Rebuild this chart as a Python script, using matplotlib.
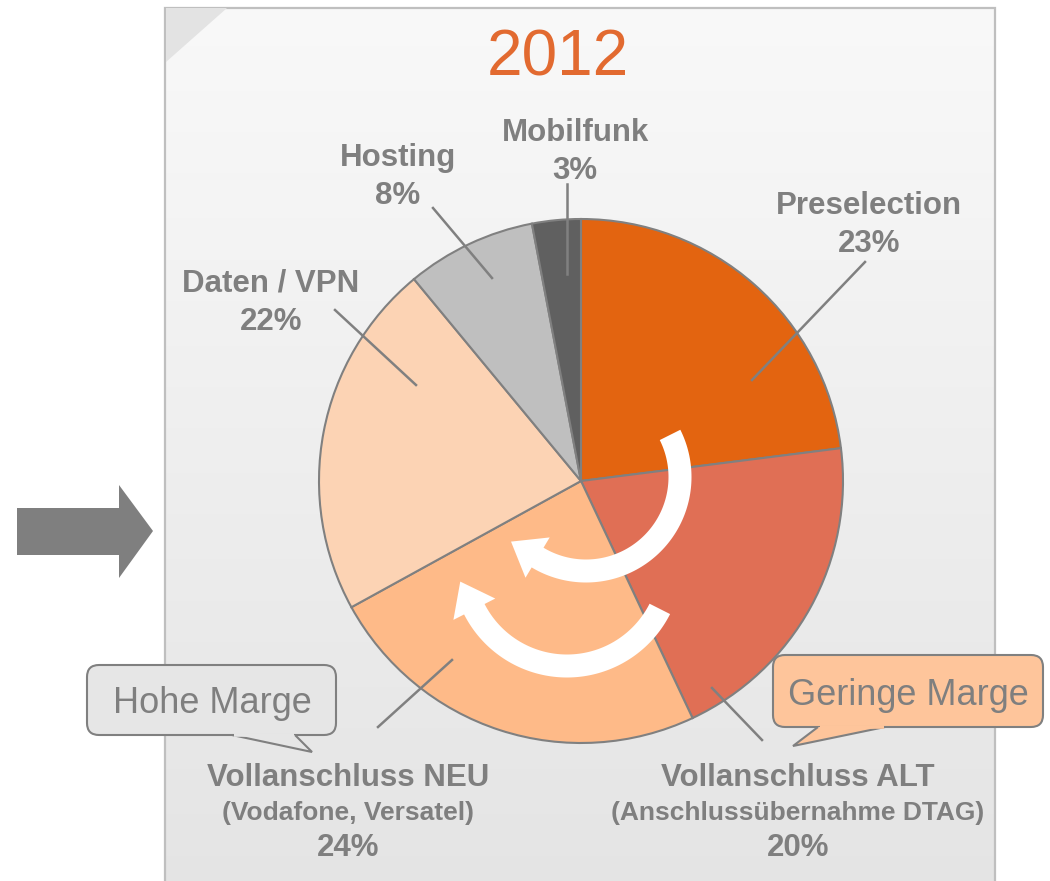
import numpy as np
import matplotlib.pyplot as plt
from matplotlib.patches import FancyBboxPatch, Polygon, Rectangle

plt.rcParams['font.family'] = ['Liberation Sans', 'DejaVu Sans']

# data
year = '2012'
labels = ['Preselection', 'Vollanschluss ALT', 'Vollanschluss NEU', 'Daten / VPN', 'Hosting', 'Mobilfunk']
shares = [23, 20, 24, 22, 8, 3]
subtitles = ['', '(Anschlussübernahme DTAG)', '(Vodafone, Versatel)', '', '', '']
margins = ['Hohe Marge', 'Geringe Marge']

colors = ['#e36410', '#e06f55', '#feba88', '#fcd3b4', '#bfbfbf', '#606060']
grey = '#7f7f7f'

W, H = 1050, 881
def Y(y):  # image row -> axes y
    return H - y

fig = plt.figure(figsize=(10.5, 8.81), dpi=100)
ax = fig.add_axes([0, 0, 1, 1])

# panel with soft gradient
grad = np.linspace(0, 1, 256)[:, None]
top, bot = np.array([0.976, 0.976, 0.976]), np.array([0.895, 0.895, 0.895])
img = top + (bot - top) * grad[..., None]
ax.imshow(img, extent=[165, 995, Y(890), Y(8)], aspect='auto', zorder=0)
ax.add_patch(Rectangle((165, Y(890)), 830, 882, fc='none', ec='#bfbfbf', lw=1.6, zorder=1))
ax.add_patch(Polygon([(166, Y(8)), (227, Y(8)), (166, Y(62))], closed=True,
                     fc='#e3e3e3', ec='none', zorder=1))

# big grey arrow on the left
ax.add_patch(Polygon([(17, Y(508)), (119, Y(508)), (119, Y(485)), (153, Y(531)),
                      (119, Y(578)), (119, Y(555)), (17, Y(555))],
                     closed=True, fc='#7f7f7f', ec='none', zorder=2))

# pie
ax.pie(shares, colors=colors, startangle=90, counterclock=False,
       center=(581, Y(481)), radius=262,
       wedgeprops=dict(edgecolor='#808080', linewidth=1.5, zorder=3))

# labels: (x, first baseline row) and leader line (image coords)
label_pos = [(869, 214), (798, 786), (348, 786), (271, 292), (398, 166), (575, 141)]
leaders = [((865, 262), (752, 380)), ((762, 740), (712, 688)), ((378, 727), (452, 660)),
           ((335, 310), (416, 385)), ((433, 208), (492, 278)), ((567, 184), (567, 274))]

for name, v, sub, (x, yb), (p, q) in zip(labels, shares, subtitles, label_pos, leaders):
    if sub:
        ax.text(x, Y(yb), name, ha='center', va='baseline', fontsize=22.5,
                fontweight='bold', color=grey, zorder=6)
        ax.text(x, Y(yb + 34), sub, ha='center', va='baseline', fontsize=19,
                fontweight='bold', color=grey, zorder=6)
        ax.text(x, Y(yb + 70), f'{v}%', ha='center', va='baseline', fontsize=22.5,
                fontweight='bold', color=grey, zorder=6)
    else:
        ax.text(x, Y(yb), name, ha='center', va='baseline', fontsize=22.5,
                fontweight='bold', color=grey, zorder=6)
        ax.text(x, Y(yb + 38), f'{v}%', ha='center', va='baseline', fontsize=22.5,
                fontweight='bold', color=grey, zorder=6)
    ax.plot([p[0], q[0]], [Y(p[1]), Y(q[1])], color='#808080', lw=1.8, zorder=5)


# white circular arrows
def curved_arrow(cx, cy, r, a0, a1, width=23, head_len=31, head_w=47):
    t = np.radians(np.linspace(a0, a1, 100))
    outer = np.c_[cx + (r + width / 2) * np.cos(t), cy + (r + width / 2) * np.sin(t)]
    inner = np.c_[cx + (r - width / 2) * np.cos(t), cy + (r - width / 2) * np.sin(t)]
    th = t[-1]
    d = np.array([np.sin(th), -np.cos(th)])
    n = np.array([np.cos(th), np.sin(th)])
    base = np.array([cx, cy]) + r * n
    head = [base + head_w / 2 * n, base + head_len * d, base - head_w / 2 * n]
    pts = np.vstack([outer, head, inner[::-1]])
    ax.add_patch(Polygon(pts, closed=True, fc='white', ec='none', zorder=4))

curved_arrow(586, Y(477), 94, 26.6, -121)
curved_arrow(567, Y(562), 104, -26.8, -153)


# speech bubbles
def callout(x0, y0, x1, y1, tail, text, fc, tx, tyb):
    ax.add_patch(FancyBboxPatch((x0, Y(y1)), x1 - x0, y1 - y0,
                                boxstyle='round,pad=0,rounding_size=12',
                                fc=fc, ec='#808080', lw=1.5, zorder=7))
    pts = [(a, Y(b)) for a, b in tail]
    ax.add_patch(Polygon(pts, closed=False, fc=fc, ec='#808080', lw=1.5, zorder=7))
    xs = sorted([pts[0][0], pts[2][0]])
    ax.plot([xs[0] + 1.5, xs[1] - 1.5], [Y(y1), Y(y1)], color=fc, lw=2.6,
            solid_capstyle='butt', zorder=8)
    ax.text(tx, Y(tyb), text, ha='center', va='baseline', fontsize=26,
            color=grey, zorder=9)

callout(87, 665, 336, 735, [(232, 735), (312, 752), (295, 735)], margins[0],
        '#e6e6e6', 212, 713)
callout(773, 655, 1043, 727, [(885, 727), (793, 746), (818, 727)], margins[1],
        '#fec59b', 908, 705)

# title
ax.text(558, Y(75), year, ha='center', va='baseline', fontsize=46, color='#e26a30', zorder=6)

ax.set_xlim(0, W)
ax.set_ylim(0, H)
ax.set_aspect('equal')
ax.axis('off')
fig.savefig('out.png', dpi=100, facecolor='white')
